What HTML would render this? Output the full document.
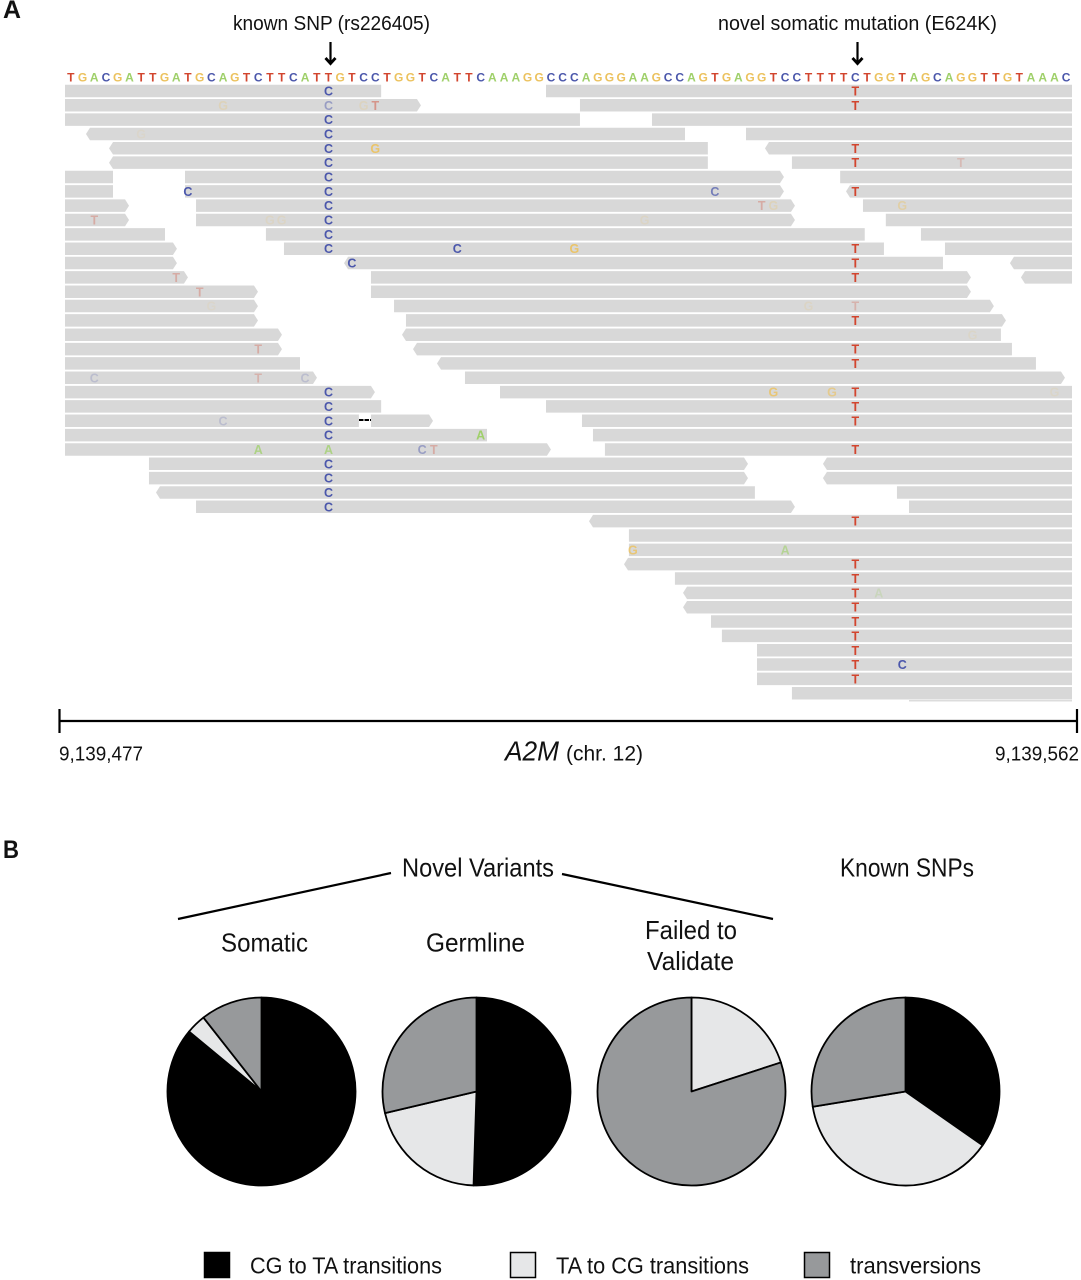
<!DOCTYPE html>
<html lang="en">
<head>
<meta charset="utf-8">
<title>A2M read alignment and variant pies</title>
<style>
html,body{margin:0;padding:0;background:#fff;}
body{width:1081px;height:1280px;overflow:hidden;}
svg{display:block;}
text{font-family:"Liberation Sans",sans-serif;fill:#111;}
.nt{font-weight:bold;text-anchor:middle;}
</style>
</head>
<body>
<svg id="fig" width="1081" height="1280" viewBox="0 0 1081 1280" xmlns="http://www.w3.org/2000/svg">
  <text x="3" y="18" font-size="25" font-weight="bold" textLength="18" lengthAdjust="spacingAndGlyphs">A</text>
  <text x="3" y="858" font-size="25" font-weight="bold" textLength="16" lengthAdjust="spacingAndGlyphs">B</text>

  <text x="233" y="30" font-size="20.500" textLength="197" lengthAdjust="spacingAndGlyphs">known SNP (rs226405)</text>
  <text x="718" y="30" font-size="20.500" textLength="279" lengthAdjust="spacingAndGlyphs">novel somatic mutation (E624K)</text>
  <g stroke="#000" stroke-width="2.200" fill="none">
    <path d="M330.500 42V63"/><path d="M325.500 58L330.500 63.500L335.500 58" stroke-width="2.800"/>
  </g>
  <g stroke="#000" stroke-width="2.200" fill="none">
    <path d="M857.500 42V63"/><path d="M852.500 58L857.500 63.500L862.500 58" stroke-width="2.800"/>
  </g>

  <g id="ref-seq"></g>
  <g id="reads"></g>
  <g id="mismatches"></g>
  <path d="M359 420H371" stroke="#000" stroke-width="2" stroke-dasharray="4.500 1" fill="none"/>

  <g stroke="#000" fill="none">
    <path d="M59 721H1077" stroke-width="2.200"/>
    <path d="M59.500 709V733" stroke-width="2.200"/>
    <path d="M1077 709V733" stroke-width="2.200"/>
  </g>
  <text x="59" y="760.500" font-size="20" textLength="84" lengthAdjust="spacingAndGlyphs">9,139,477</text>
  <text x="995" y="760.500" font-size="20" textLength="84" lengthAdjust="spacingAndGlyphs">9,139,562</text>
  <text x="505" y="760.500" font-size="28" font-style="italic" textLength="54" lengthAdjust="spacingAndGlyphs">A2M</text>
  <text x="566" y="760.500" font-size="21.500" textLength="77" lengthAdjust="spacingAndGlyphs">(chr. 12)</text>

  <text x="402" y="876.500" font-size="26" textLength="152" lengthAdjust="spacingAndGlyphs">Novel Variants</text>
  <text x="840" y="876.500" font-size="26" textLength="134" lengthAdjust="spacingAndGlyphs">Known SNPs</text>
  <path d="M178 919L391 873" stroke="#000" stroke-width="2.200" fill="none"/>
  <path d="M562 874L773 919" stroke="#000" stroke-width="2.200" fill="none"/>
  <text x="221" y="951.500" font-size="26" textLength="87" lengthAdjust="spacingAndGlyphs">Somatic</text>
  <text x="426" y="951.500" font-size="26" textLength="99" lengthAdjust="spacingAndGlyphs">Germline</text>
  <text x="645" y="939" font-size="26" textLength="92" lengthAdjust="spacingAndGlyphs">Failed to</text>
  <text x="647" y="970" font-size="26" textLength="87" lengthAdjust="spacingAndGlyphs">Validate</text>

  <g id="pies"></g>

  <g>
    <rect x="204.500" y="1252.500" width="25" height="25" fill="#000" stroke="#000" stroke-width="1.500"/>
    <text x="250" y="1273.300" font-size="23.500" textLength="192" lengthAdjust="spacingAndGlyphs">CG to TA transitions</text>
    <rect x="510.500" y="1252.500" width="25" height="25" fill="#e6e7e8" stroke="#000" stroke-width="1.500"/>
    <text x="556" y="1273.300" font-size="23.500" textLength="193" lengthAdjust="spacingAndGlyphs">TA to CG transitions</text>
    <rect x="804.500" y="1252.500" width="25" height="25" fill="#97999b" stroke="#000" stroke-width="1.500"/>
    <text x="850" y="1273.300" font-size="23.500" textLength="131" lengthAdjust="spacingAndGlyphs">transversions</text>
  </g>
</svg>
<script>
// ---- data -----------------------------------------------------------------
const referenceSeq = "TGACGATTGATGCAGTCTTCATTGTCCTGGTCATTCAAAGGCCCAGGGAAGCCAGTGAGGTCCTTTTCTGGTAGCAGGTTGTAAAC";

// Reads per pileup row: [startBase, endBase, strandTip]
const readsByRow = [
  [[0,27,""],[41.08,86,""]],
  [[0,30.4,"R"],[43.98,86,""]],
  [[0,43.98,""],[50.13,86,""]],
  [[1.79,52.95,"L"],[58.16,86,""]],
  [[3.76,54.9,"L"],[59.78,86,"L"]],
  [[3.76,54.9,"L"],[62.08,86,""]],
  [[0,4.1,""],[10.25,61.4,"R"],[66.2,86,""]],
  [[0,4.1,""],[10.25,61.4,"R"],[66.7,86,"L"]],
  [[0,5.47,"R"],[11.19,62.34,"R"],[68.15,86,""]],
  [[0,5.47,"R"],[11.19,62.34,"R"],[70.1,86,""]],
  [[0,8.54,""],[17.16,68.3,""],[73.1,86,""]],
  [[0,9.56,"R"],[18.7,69.94,""],[75.15,86,""]],
  [[0,9.56,"R"],[23.83,74.98,"L"],[80.7,86,"L"]],
  [[0,10.5,"R"],[26.13,77.37,"R"],[81.64,86,"L"]],
  [[0,16.48,"R"],[26.13,77.37,"R"]],
  [[0,16.48,"R"],[28.1,79.33,"R"]],
  [[0,16.48,"R"],[29.12,80.36,"R"]],
  [[0,18.53,"R"],[28.78,79.93,"L"]],
  [[0,18.53,"R"],[29.72,80.87,"L"]],
  [[0,20.07,""],[31.77,82.92,"L"]],
  [[0,21.52,"R"],[34.16,85.4,"R"]],
  [[0,26.47,"R"],[37.15,86,""]],
  [[0,27,""],[41.08,86,""]],
  [[0,25.1,""],[26.13,31.43,"R"],[44.15,86,""]],
  [[0,36.04,""],[45.09,86,""]],
  [[0,41.5,"R"],[46.11,86,""]],
  [[7.17,58.33,"R"],[64.73,86,"L"]],
  [[7.17,58.33,"R"],[64.73,86,"L"]],
  [[7.77,58.92,"L"],[71.05,86,""]],
  [[11.19,62.34,"R"],[72.08,86,""]],
  [[44.75,86,"L"]],
  [[48.16,86,""]],
  [[48.16,86,""]],
  [[47.74,86,"L"]],
  [[52.09,86,""]],
  [[52.78,86,"L"]],
  [[52.78,86,"L"]],
  [[55.17,86,""]],
  [[56.1,86,""]],
  [[59.1,86,""]],
  [[59.1,86,""]],
  [[59.1,86,""]],
  [[62.08,86,""]]
];

// Mismatched bases: [row, base, letter, opacity]
const mismatchList = [
  [0,22,"C",1],[0,67,"T",1],
  [1,13,"G",.25],[1,22,"C",.45],[1,25,"G",.2],[1,26,"T",.45],[1,67,"T",1],
  [2,22,"C",1],
  [3,6,"G",.1],[3,22,"C",1],
  [4,22,"C",1],[4,26,"G",.9],[4,67,"T",1],
  [5,22,"C",1],[5,67,"T",1],[5,76,"T",.2],
  [6,22,"C",1],
  [7,10,"C",1],[7,22,"C",1],[7,55,"C",.7],[7,67,"T",1],
  [8,22,"C",1],[8,59,"T",.3],[8,60,"G",.25],[8,71,"G",.4],
  [9,2,"T",.3],[9,17,"G",.15],[9,18,"G",.15],[9,22,"C",1],[9,49,"G",.15],
  [10,22,"C",1],
  [11,22,"C",1],[11,33,"C",1],[11,43,"G",.9],[11,67,"T",1],
  [12,24,"C",1],[12,67,"T",1],
  [13,9,"T",.3],[13,67,"T",1],
  [14,11,"T",.3],
  [15,12,"G",.1],[15,63,"G",.15],[15,67,"T",.25],
  [16,67,"T",1],
  [17,77,"G",.12],
  [18,16,"T",.3],[18,67,"T",1],
  [19,67,"T",1],
  [20,2,"C",.2],[20,16,"T",.25],[20,20,"C",.2],
  [21,22,"C",1],[21,60,"G",.8],[21,65,"G",.6],[21,67,"T",1],[21,84,"G",.12],
  [22,22,"C",1],[22,67,"T",1],
  [23,13,"C",.2],[23,22,"C",1],[23,67,"T",1],
  [24,22,"C",1],[24,35,"A",1],
  [25,16,"A",.75],[25,22,"A",.75],[25,30,"C",.45],[25,31,"T",.3],[25,67,"T",1],
  [26,22,"C",1],[27,22,"C",1],[28,22,"C",1],[29,22,"C",1],
  [30,67,"T",1],
  [32,48,"G",.8],[32,61,"A",.6],
  [33,67,"T",1],[34,67,"T",1],
  [35,67,"T",1],[35,69,"A",.25],
  [36,67,"T",1],[37,67,"T",1],[38,67,"T",1],[39,67,"T",1],
  [40,67,"T",1],[40,71,"C",1],
  [41,67,"T",1]
];

// Pies: percent of variants per class
const pieCategories = ["CG to TA transitions","TA to CG transitions","transversions"];
const somaticValues = [86,3.4,10.6];
const germlineValues = [50.5,20.8,28.7];
const failedValues = [0,20,80];
const knownValues = [34.7,37.7,27.6];

// ---- drawing --------------------------------------------------------------
const NS = "http://www.w3.org/2000/svg";
const baseColor = {T:"#d2452e",C:"#4b57ab",G:"#ecc25e",A:"#9fd06a"};
const sliceColor = ["#000000","#e6e7e8","#97999b"];
const xBase = b => 65 + b * (1007 / 86);
const yRow = r => 91 + r * 14.34;

function svgEl(tag, attrs, parent){
  const el = document.createElementNS(NS, tag);
  for (const k in attrs) el.setAttribute(k, attrs[k]);
  parent.appendChild(el);
  return el;
}

const seqGroup = document.getElementById("ref-seq");
referenceSeq.split("").forEach((ch, i) => {
  const t = svgEl("text", {class:"nt", x:xBase(i + .5), y:81.500, "font-size":12, style:"fill:"+baseColor[ch]}, seqGroup);
  
  
  t.textContent = ch;
});

const readGroup = document.getElementById("reads");
readsByRow.forEach((segments, row) => {
  segments.forEach(seg => {
    const x0 = xBase(seg[0]), x1 = xBase(seg[1]);
    const top = yRow(row) - 6.300, bot = yRow(row) + 6.200, mid = yRow(row);
    let pts;
    if (seg[2] === "R") pts = [[x0,top],[x1-4,top],[x1,mid],[x1-4,bot],[x0,bot]];
    else if (seg[2] === "L") pts = [[x0+4,top],[x1,top],[x1,bot],[x0+4,bot],[x0,mid]];
    else pts = [[x0,top],[x1,top],[x1,bot],[x0,bot]];
    const p = svgEl("polygon", {points:pts.map(q => q.join(",")).join(" "), fill:"#d8d8d8"}, readGroup);
    
    
  });
});
const thinRead = svgEl("rect", {x:xBase(72.08), y:700, width:xBase(86)-xBase(72.08), height:1.5, fill:"#dcdcdc"}, readGroup);



const misGroup = document.getElementById("mismatches");
mismatchList.forEach(m => {
  const t = svgEl("text", {class:"nt", x:xBase(m[1] + .5), y:yRow(m[0]) + 4.500, "font-size":12.500, style:"fill:"+baseColor[m[2]], opacity:m[3]}, misGroup);
  
  
  t.textContent = m[2];
});

const pieGroup = document.getElementById("pies");
function drawPie(name, values, cx, cy, r){
  const g = svgEl("g", {}, pieGroup);
  
  
  const total = values.reduce((a, b) => a + b, 0);
  let acc = 0;
  values.forEach((v, i) => {
    if (v <= 0) return;
    const a0 = acc / total * 2 * Math.PI - Math.PI / 2;
    acc += v;
    const a1 = acc / total * 2 * Math.PI - Math.PI / 2;
    const large = (a1 - a0) > Math.PI ? 1 : 0;
    const d = "M" + cx + " " + cy +
      "L" + (cx + r * Math.cos(a0)) + " " + (cy + r * Math.sin(a0)) +
      "A" + r + " " + r + " 0 " + large + " 1 " + (cx + r * Math.cos(a1)) + " " + (cy + r * Math.sin(a1)) + "Z";
    const s = svgEl("path", {d:d, fill:sliceColor[i], stroke:"#000", "stroke-width":1.800, "stroke-linejoin":"round"}, g);
    
    
    const tip = svgEl("title", {}, s);
    tip.textContent = pieCategories[i] + ": " + v + "%";
  });
}
const pieRadius = 94;
const pieY = 1091.500;
drawPie("pie-somatic", somaticValues, 261.500, pieY, pieRadius);
drawPie("pie-germline", germlineValues, 476.500, pieY, pieRadius);
drawPie("pie-failed-to-validate", failedValues, 691.500, pieY, pieRadius);
drawPie("pie-known-snps", knownValues, 905.500, pieY, pieRadius);
</script>
</body>
</html>
